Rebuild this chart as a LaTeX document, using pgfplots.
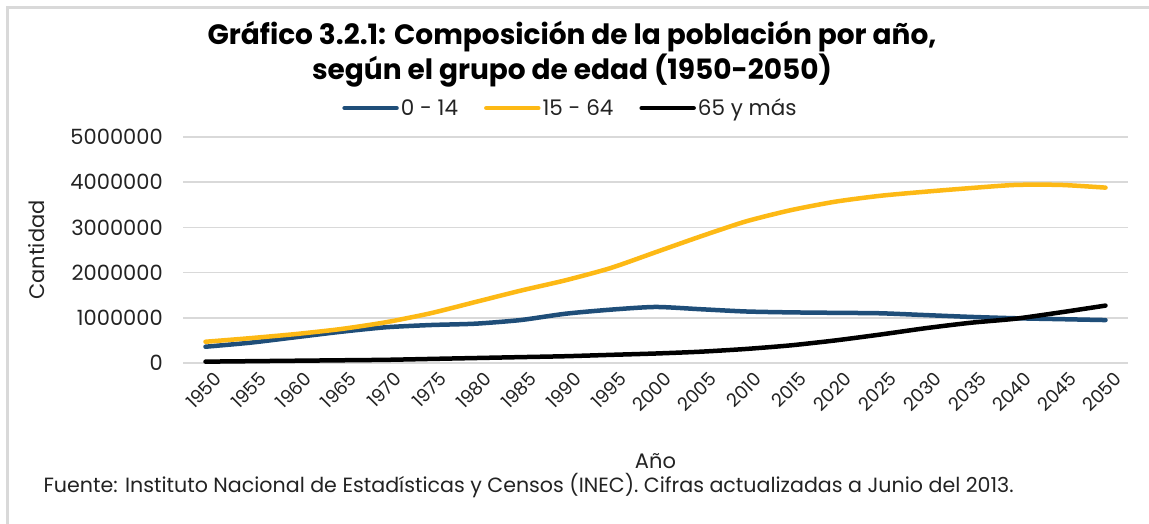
\documentclass[border=0pt]{standalone}
\usepackage{fontspec}
\setmainfont{Poppins}
\usepackage{pgfplots}
\pgfplotsset{compat=1.18}
\definecolor{cblue}{RGB}{31,78,121}
\definecolor{cyel}{RGB}{253,185,21}
\definecolor{cgrid}{RGB}{217,217,217}
\definecolor{ctext}{RGB}{35,35,35}
\definecolor{cframe}{RGB}{217,217,217}
\pgfplotstableread{
x a b c
0  360000  470000  30000
1  450000  550000  40000
2  570000  640000  50000
3  690000  750000  60000
4  790000  900000  70000
5  840000  1100000 90000
6  870000  1350000 110000
7  950000  1600000 130000
8  1090000 1830000 150000
9  1180000 2100000 180000
10 1240000 2450000 210000
11 1190000 2800000 250000
12 1140000 3130000 310000
13 1120000 3380000 390000
14 1110000 3570000 500000
15 1100000 3700000 630000
16 1060000 3790000 770000
17 1020000 3870000 890000
18 990000  3940000 980000
19 970000  3940000 1120000
20 950000  3880000 1270000
}\datatab
\begin{document}
\begin{tikzpicture}
\useasboundingbox (0,0) rectangle (1149pt,-524pt);
\fill[white] (0,0) rectangle (1149pt,-524pt);
\draw[cframe, line width=2.5pt] (7.5pt,-524pt) -- (7.5pt,-7.5pt) -- (1149pt,-7.5pt);
\node[anchor=base, font=\fontsize{28}{32}\selectfont\bfseries, text=black] at (572pt,-45pt) {Gráfico 3.2.1: Composición de la población por año,};
\node[anchor=base, font=\fontsize{28}{32}\selectfont\bfseries, text=black] at (572pt,-80pt) {según el grupo de edad (1950-2050)};
\node[anchor=base west, font=\fontsize{20.6}{24}\selectfont, text=ctext] at (40pt,-492pt) {Fuente: Instituto Nacional de Estadísticas y Censos (INEC). Cifras actualizadas a Junio del 2013.};
\begin{axis}[
  at={(183pt,-363pt)}, anchor=south west,
  scale only axis, width=945pt, height=226pt,
  xmin=-0.5, xmax=20.5, ymin=0, ymax=5000000,
  axis line style={draw=none},
  major tick length=0pt,
  scaled y ticks=false,
  xtick={0,...,20},
  xticklabels={1950,1955,1960,1965,1970,1975,1980,1985,1990,1995,2000,2005,2010,2015,2020,2025,2030,2035,2040,2045,2050},
  ytick={0,1000000,2000000,3000000,4000000,5000000},
  yticklabels={0,1000000,2000000,3000000,4000000,5000000},
  ymajorgrids, grid style={cgrid, line width=1.5pt},
  ticklabel style={font=\fontsize{21}{25}\selectfont, text=ctext},
  xticklabel style={font=\fontsize{18.5}{22}\selectfont, rotate=45, anchor=north east, inner sep=0pt, xshift=0pt, yshift=-11pt},
  yticklabel style={inner sep=0pt, xshift=-20pt},
  xlabel={Año}, ylabel={Cantidad},
  label style={font=\fontsize{21}{25}\selectfont, text=ctext},
  xlabel style={at={(0.5,-0.435)}, anchor=center},
  ylabel style={at={(-0.155,0.5)}, anchor=center},
  legend columns=3,
  legend style={at={(0.41,1.128)}, anchor=center, draw=none, fill=none,
    font=\fontsize{21.5}{25}\selectfont, text=ctext,
    /tikz/every even column/.append style={column sep=24pt}},
  legend image code/.code={\draw[#1, line width=4.5pt, line cap=round] (0pt,0pt) -- (52pt,0pt);},
  every axis plot/.append style={line width=4.5pt, line cap=round, smooth, tension=0.4},
]
\addplot[cblue] table[x=x,y=a] {\datatab};
\addlegendentry{0 - 14}
\addplot[cyel] table[x=x,y=b] {\datatab};
\addlegendentry{15 - 64}
\addplot[black] table[x=x,y=c] {\datatab};
\addlegendentry{65 y más}
\end{axis}
\end{tikzpicture}
\end{document}
